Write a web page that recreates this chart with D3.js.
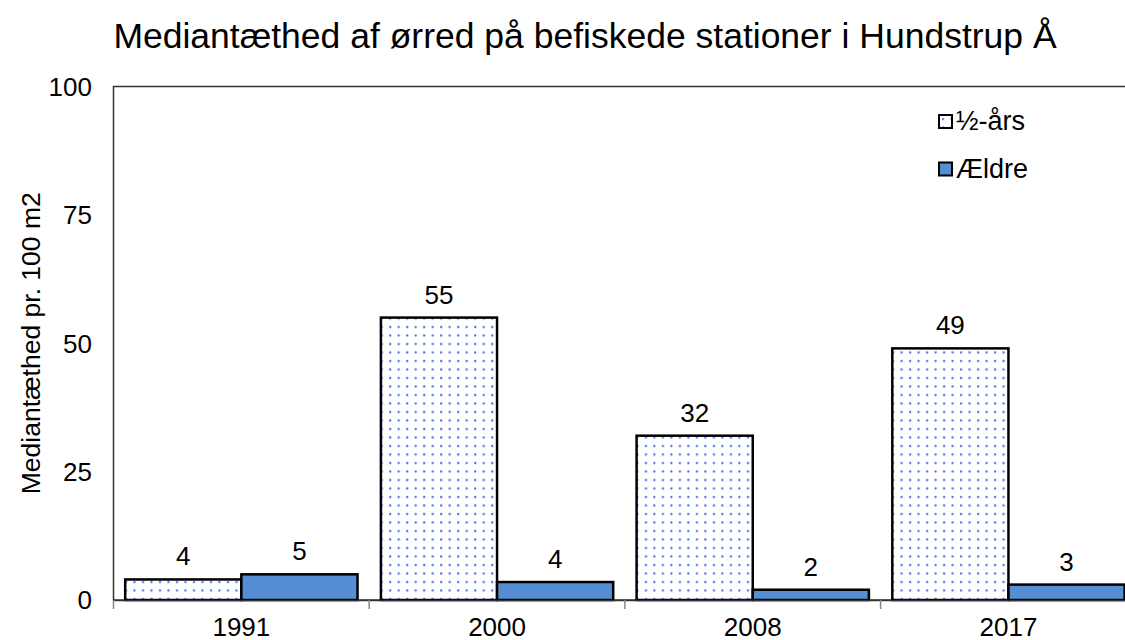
<!DOCTYPE html>
<html>
<head>
<meta charset="utf-8">
<script src="https://cdn.jsdelivr.net/npm/d3@7"></script>
<style>
  body { margin: 0; background: #fff; }
  svg { font-family: "Liberation Sans", Arial, sans-serif; }
</style>
</head>
<body>
<div id="chart"></div>
<script>
var years = ["1991", "2000", "2008", "2017"];
var series = ["½-års", "Ældre"];
var halfYear = [4, 55, 32, 49];
var older = [5, 3.5, 2, 3];
var valueLabels = [[4, 5], [55, 4], [32, 2], [49, 3]];
var yTicks = [0, 25, 50, 75, 100];

var W = 1125, H = 640;
var plotLeft = 113.5, plotTop = 86.5, plotBottom = 600;
var bandW = 255.7;

var svg = d3.select("#chart").append("svg")
  .attr("width", W).attr("height", H);

var defs = svg.append("defs");
var pat = defs.append("pattern")
  .attr("id", "dots")
  .attr("patternUnits", "userSpaceOnUse")
  .attr("width", 8.5).attr("height", 8.5);
pat.append("rect").attr("width", 8.5).attr("height", 8.5).attr("fill", "#fff");
pat.append("rect").attr("x", 3).attr("y", 3).attr("width", 2).attr("height", 2).attr("fill", "#2f62f4");

var x0 = d3.scaleBand().domain(years).range([plotLeft, plotLeft + bandW * years.length]).padding(0);
var x1 = d3.scaleBand().domain(series).range([11.7, bandW - 11.7]).padding(0);
var y = d3.scaleLinear().domain([0, 100]).range([plotBottom, plotTop]);

// title
svg.append("text")
  .attr("x", 585).attr("y", 48)
  .attr("text-anchor", "middle")
  .attr("font-size", 35.5)
  .text("Mediantæthed af ørred på befiskede stationer i Hundstrup Å");

// plot border (top + left, right runs off the canvas)
svg.append("rect")
  .attr("x", plotLeft).attr("y", plotTop)
  .attr("width", bandW * years.length).attr("height", plotBottom - plotTop)
  .attr("fill", "none").attr("stroke", "#333").attr("stroke-width", 1.5);

// y tick labels
svg.selectAll(".ytick").data(yTicks).enter().append("text")
  .attr("class", "ytick")
  .attr("x", 92).attr("y", function(d){ return y(d); })
  .attr("dy", "0.36em")
  .attr("text-anchor", "end")
  .attr("font-size", 26)
  .text(function(d){ return d; });

// y label
svg.append("text")
  .attr("transform", "translate(40," + ((plotTop + plotBottom) / 2) + ") rotate(-90)")
  .attr("text-anchor", "middle")
  .attr("font-size", 26.5)
  .text("Mediantæthed pr. 100 m2");

var rows = years.map(function(yr, i){
  return { year: yr, vals: [halfYear[i], older[i]], labels: valueLabels[i] };
});

var g = svg.selectAll(".grp").data(rows).enter().append("g")
  .attr("class", "grp")
  .attr("transform", function(d){ return "translate(" + x0(d.year) + ",0)"; });

g.selectAll("rect").data(function(d){
    return series.map(function(s, j){ return { s: s, v: d.vals[j], lab: d.labels[j] }; });
  }).enter().append("rect")
  .attr("x", function(d){ return x1(d.s); })
  .attr("y", function(d){ return y(d.v); })
  .attr("width", x1.bandwidth())
  .attr("height", function(d){ return y(0) - y(d.v); })
  .attr("fill", function(d){ return d.s === series[0] ? "url(#dots)" : "#558ed5"; })
  .attr("stroke", "#000").attr("stroke-width", 2.5);

g.selectAll(".val").data(function(d){
    return series.map(function(s, j){ return { s: s, v: d.vals[j], lab: d.labels[j] }; });
  }).enter().append("text")
  .attr("class", "val")
  .attr("x", function(d){ return x1(d.s) + x1.bandwidth() / 2; })
  .attr("y", function(d){ return y(d.v) - 14; })
  .attr("text-anchor", "middle")
  .attr("font-size", 26)
  .text(function(d){ return d.lab; });

// x axis baseline + labels
var xAxis = svg.append("g")
  .attr("transform", "translate(0," + plotBottom + ")")
  .call(d3.axisBottom(x0).tickSize(0).tickPadding(18));
xAxis.select(".domain").attr("stroke", "#333").attr("stroke-width", 1.5);
xAxis.selectAll("text").attr("font-size", 26).attr("font-family", "Liberation Sans, Arial, sans-serif").attr("fill", "#000");

svg.selectAll(".xsep").data(years.concat(["end"])).enter().append("line")
  .attr("class", "xsep")
  .attr("x1", function(d, i){ return plotLeft + i * bandW; })
  .attr("x2", function(d, i){ return plotLeft + i * bandW; })
  .attr("y1", plotBottom).attr("y2", plotBottom + 9)
  .attr("stroke", "#888").attr("stroke-width", 1.5);

// legend
var leg = svg.selectAll(".leg").data(series).enter().append("g")
  .attr("class", "leg")
  .attr("transform", function(d, i){ return "translate(939," + (115 + i * 47.5) + ")"; });
leg.append("rect")
  .attr("width", 13).attr("height", 13)
  .attr("fill", function(d, i){ return i === 0 ? "url(#dots)" : "#558ed5"; })
  .attr("stroke", "#000").attr("stroke-width", 2);
leg.append("text")
  .attr("x", 17).attr("y", 15)
  .attr("font-size", 27)
  .text(function(d){ return d; });
</script>
</body>
</html>
